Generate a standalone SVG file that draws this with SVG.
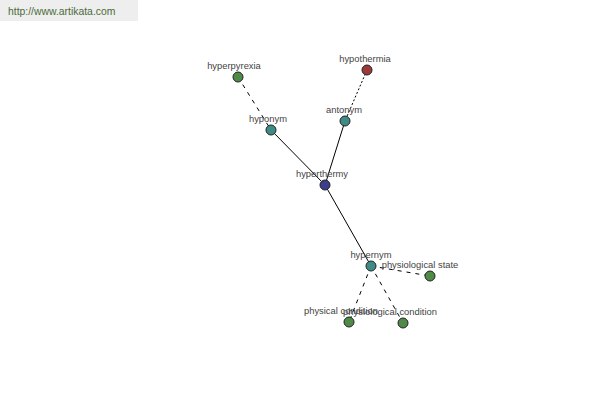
<svg xmlns="http://www.w3.org/2000/svg" width="600" height="400" viewBox="0 0 600 400">
<style>
.lbl{font-family:"Liberation Sans",Arial,sans-serif;font-size:9.4px;fill:#444;text-anchor:middle}
.n{stroke:#222;stroke-width:1}
.green{fill:#4f8a46}
.teal{fill:#3f8c87}
.blue{fill:#3c3f8c}
.red{fill:#9c3a3a}
.e{stroke:#000;stroke-width:1;fill:none}
.dash{stroke-dasharray:4,5}
.dot{stroke-dasharray:2,2}
</style>
<rect x="0" y="0" width="600" height="400" fill="#fff"/>
<g id="watermark">
<rect x="0" y="0" width="138" height="21" fill="#eeeeee"/>
<text x="8" y="15" font-family="'Liberation Sans',Arial,sans-serif" font-size="10.4" fill="#4b6b3a">http://www.artikata.com</text>
</g>
<g id="connectors">
<line class="e dash" x1="238" y1="77" x2="271" y2="130"/>
<line class="e dot" x1="367" y1="70" x2="345" y2="121"/>
<line class="e" x1="271" y1="130" x2="325" y2="185"/>
<line class="e" x1="345" y1="121" x2="325" y2="185"/>
<line class="e" x1="325" y1="185" x2="371" y2="266"/>
<line class="e dash" x1="371" y1="266" x2="430" y2="276"/>
<line class="e dash" x1="371" y1="266" x2="349" y2="322"/>
<line class="e dash" x1="371" y1="266" x2="403" y2="323"/>
</g>
<g id="hyperpyrexia"><circle class="n green" cx="238" cy="77" r="5"/><text class="lbl" x="234" y="69">hyperpyrexia</text></g>
<g id="hypothermia"><circle class="n red" cx="367" cy="70" r="5"/><text class="lbl" x="365" y="62">hypothermia</text></g>
<g id="hyponym"><circle class="n teal" cx="271" cy="130" r="5"/><text class="lbl" x="268" y="122">hyponym</text></g>
<g id="antonym"><circle class="n teal" cx="345" cy="121" r="5"/><text class="lbl" x="344" y="113">antonym</text></g>
<g id="hyperthermy"><circle class="n blue" cx="325" cy="185" r="5"/><text class="lbl" x="322" y="177">hyperthermy</text></g>
<g id="hypernym"><circle class="n teal" cx="371" cy="266" r="5"/><text class="lbl" x="371" y="258">hypernym</text></g>
<g id="physiological-state"><circle class="n green" cx="430" cy="276" r="5"/><text class="lbl" x="420" y="268">physiological state</text></g>
<g id="physical-condition"><circle class="n green" cx="349" cy="322" r="5"/><text class="lbl" x="341" y="314">physical condition</text></g>
<g id="physiological-condition"><circle class="n green" cx="403" cy="323" r="5"/><text class="lbl" x="390" y="315">physiological condition</text></g>
</svg>
